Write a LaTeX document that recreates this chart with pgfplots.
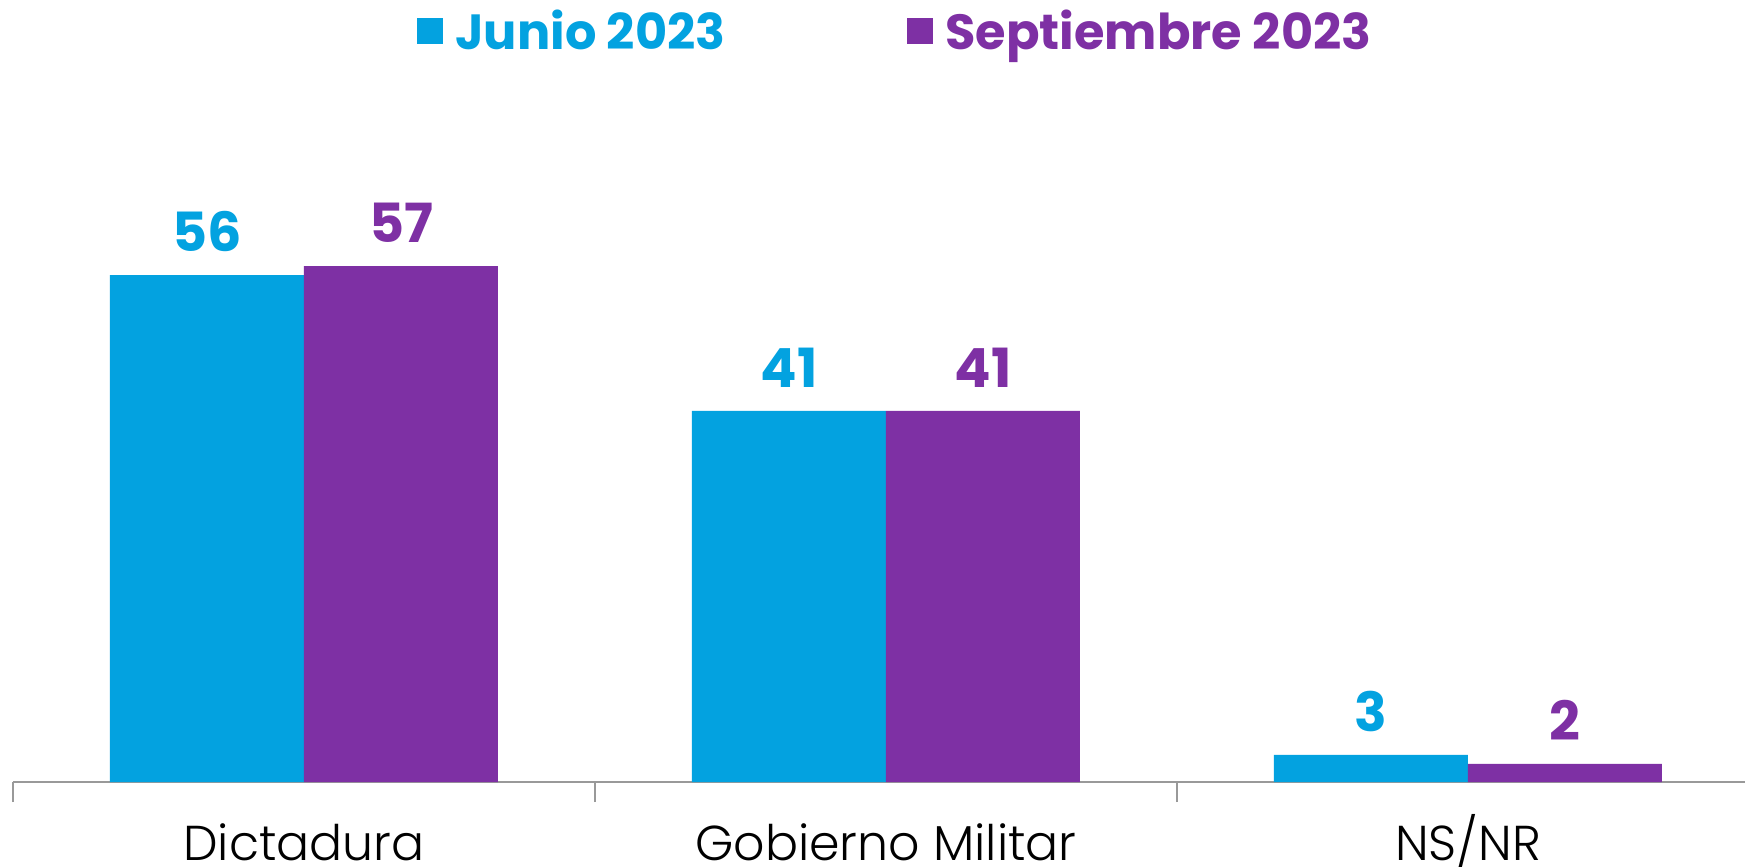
\documentclass[border=0pt]{standalone}
\usepackage{pgfplots}
\pgfplotsset{compat=1.18}
\usepackage{fontspec}
\setmainfont{Poppins}
\newfontfamily\lightfont{Poppins}[UprightFont=* Light]
\definecolor{cblue}{RGB}{3,162,224}
\definecolor{cpurp}{RGB}{126,48,164}
\begin{document}
\begin{tikzpicture}
\begin{axis}[
  at={(6.5pt,42.5pt)}, anchor=south west,
  scale only axis, width=866pt, height=391pt,
  xmin=-0.5, xmax=2.476, ymin=0, ymax=86.4,
  axis x line=bottom, axis y line=none,
  axis line style={-, draw=black!40, line width=0.8pt},
  ybar=0pt, bar width=97pt,
  xtick={0,1,2}, xticklabels={Dictadura,Gobierno Militar,NS/NR},
  major x tick style={draw=none},
  minor xtick={-0.5,0.5,1.5},
  minor tick length=10pt, xtick align=outside,
  minor x tick style={draw=black!40, line width=0.8pt},
  xticklabel style={anchor=base, inner sep=0pt, yshift=-35pt, font=\lightfont\fontsize{24.5}{28}\selectfont},
  /pgf/number format/assume math mode=true,
  nodes near coords,
  every node near coord/.append style={anchor=south, inner sep=0pt, yshift=11.5pt, font=\fontsize{27}{30}\selectfont\bfseries},
  legend columns=2,
  legend style={at={(0.510,0.960)}, anchor=center, draw=none, fill=none,
    font=\fontsize{24.7}{28}\selectfont\bfseries,
    /tikz/every even column/.append style={column sep=89pt},
    legend cell align=left},
  legend image code/.code={\fill[#1] (0pt,-6.5pt) rectangle (13pt,6.5pt); \path (17pt,0pt);},
]
\addplot[fill=cblue, draw=none, every node near coord/.append style={text=cblue}] coordinates {(0,56) (1,41) (2,3)};
\addplot[fill=cpurp, draw=none, every node near coord/.append style={text=cpurp}] coordinates {(0,57) (1,41) (2,2)};
\legend{\textcolor{cblue}{Junio 2023},\textcolor{cpurp}{Septiembre 2023}}
\end{axis}
\pgfresetboundingbox
\path (0,0) rectangle (872.5pt,433.5pt);
\end{tikzpicture}
\end{document}
